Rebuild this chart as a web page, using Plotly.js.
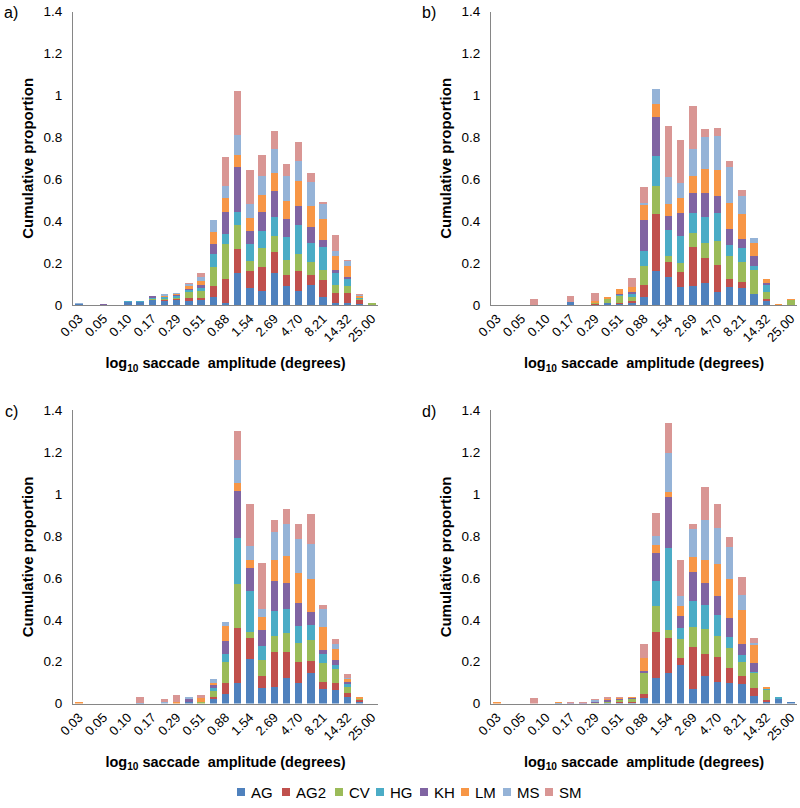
<!DOCTYPE html>
<html>
<head>
<meta charset="utf-8">
<script src="https://cdn.plot.ly/plotly-3.0.1.min.js"></script>
<style>html,body{margin:0;padding:0;background:#fff}#chart{width:800px;height:808px}</style>
</head>
<body>
<div id="chart"></div>
<script>
// Category bins (log-spaced saccade amplitude, degrees)
const categories = ["0.03","0.04","0.05","0.07","0.10","0.13","0.17","0.22","0.29","0.38","0.51","0.67","0.88","1.17","1.54","2.04","2.69","3.56","4.70","6.21","8.21","10.84","14.32","18.92","25.00"];
const tickLabels = ["0.03","0.05","0.10","0.17","0.29","0.51","0.88","1.54","2.69","4.70","8.21","14.32","25.00"];
const seriesNames = ["AG","AG2","CV","HG","KH","LM","MS","SM"];
const seriesColors = ["#4F81BD","#C0504D","#9BBB59","#4BACC6","#8064A2","#F79646","#95B3D7","#D99694"];
const panelLabels = ["a)","b)","c)","d)"];

// Panel a
const a_AG  = [0.003,0,0.002,0,0.015,0.014,0.025,0.020,0.025,0.020,0.025,0.040,0.011,0.151,0.080,0.067,0.151,0.092,0.067,0.095,0.040,0.008,0.008,0.005,0];
const a_AG2 = [0,0,0,0,0,0,0,0.003,0.003,0.015,0.010,0.050,0.111,0.118,0.080,0.113,0.100,0.051,0.097,0.048,0.080,0.048,0.048,0.020,0];
const a_CV  = [0,0,0,0,0,0,0.005,0.007,0.005,0.025,0.030,0.090,0.169,0.113,0.048,0.094,0.078,0.072,0.078,0.064,0.048,0.040,0.037,0.005,0.008];
const a_HG  = [0,0,0,0,0.003,0.004,0.005,0.007,0.008,0.010,0.015,0.062,0.046,0.060,0.084,0.080,0.092,0.111,0.140,0.091,0.107,0.059,0.032,0.005,0];
const a_KH  = [0.004,0,0.004,0,0,0,0.010,0.003,0.005,0.005,0.015,0.050,0.105,0.218,0.062,0.089,0.121,0.083,0.089,0.076,0.033,0.013,0.011,0,0];
const a_LM  = [0,0,0,0,0,0,0,0.005,0.005,0.015,0.020,0.057,0.067,0.056,0.060,0.080,0.086,0.089,0.122,0.097,0.102,0.068,0.048,0.008,0];
const a_MS  = [0.004,0,0,0,0,0,0,0.007,0.008,0.008,0.020,0.057,0.060,0.095,0.068,0.095,0.116,0.119,0.095,0.116,0.073,0.024,0.024,0.005,0];
const a_SM  = [0,0,0,0,0,0,0,0,0,0.005,0.020,0,0.138,0.210,0.162,0.099,0.086,0.056,0.091,0.041,0.011,0.072,0.008,0.003,0];

// Panel b
const b_AG  = [0,0,0,0,0,0,0.012,0,0.002,0.008,0.003,0.008,0.040,0.164,0.135,0.084,0.091,0.107,0.060,0.084,0.080,0.051,0.021,0,0];
const b_AG2 = [0,0,0,0,0,0,0,0,0.003,0,0.008,0.013,0.056,0.269,0.072,0.075,0.185,0.119,0.130,0.040,0.032,0.003,0.008,0,0];
const b_CV  = [0,0,0,0,0,0,0,0,0.006,0.020,0.030,0.019,0.088,0.135,0.029,0.043,0.067,0.072,0.115,0.111,0.091,0.113,0.032,0,0.025];
const b_HG  = [0,0,0,0,0,0,0.002,0,0,0,0.005,0.011,0.076,0.143,0.123,0.129,0.095,0.121,0.132,0.051,0.068,0.019,0.035,0,0];
const b_KH  = [0,0,0,0,0,0,0,0,0,0,0.008,0.013,0.146,0.185,0.064,0.107,0.095,0.118,0.084,0.075,0.045,0.048,0.008,0,0];
const b_LM  = [0,0,0,0,0,0,0,0,0.010,0.012,0.020,0.024,0.072,0.062,0.060,0.072,0.084,0.113,0.123,0.127,0.118,0.060,0.021,0.006,0.004];
const b_MS  = [0,0,0,0.002,0,0,0,0,0,0,0,0,0.011,0.073,0.130,0.072,0.127,0.151,0.162,0.169,0.084,0.024,0,0,0];
const b_SM  = [0,0,0,0.027,0,0,0.030,0,0.035,0,0,0.043,0.072,0,0.243,0.204,0.207,0.040,0.040,0.032,0.032,0,0,0,0];

// Panel c
const c_AG  = [0,0,0,0,0,0.005,0,0,0,0.010,0,0.020,0.047,0.097,0.212,0.073,0.081,0.121,0.097,0.145,0.069,0.066,0.030,0.010,0];
const c_AG2 = [0,0,0,0,0,0,0,0,0,0,0,0.010,0.050,0.266,0.100,0.060,0.165,0.124,0.103,0.060,0.035,0.030,0.020,0.005,0];
const c_CV  = [0,0,0,0,0,0,0,0,0,0,0.010,0.030,0.103,0.208,0.029,0.076,0.078,0.091,0.088,0.099,0.091,0.067,0.030,0.005,0];
const c_HG  = [0,0,0,0,0,0,0,0,0,0,0,0.015,0.035,0.218,0.197,0.067,0.119,0.116,0.083,0.072,0.040,0.021,0.015,0,0];
const c_KH  = [0,0,0,0,0,0,0,0,0,0.010,0,0.014,0.065,0.228,0.111,0.076,0.140,0.123,0.108,0.060,0.021,0.024,0.010,0,0];
const c_LM  = [0.008,0,0,0,0,0,0,0,0.010,0,0.015,0.011,0.070,0.035,0.037,0.059,0.103,0.130,0.146,0.158,0.111,0.053,0.013,0.010,0];
const c_MS  = [0,0,0,0,0,0,0,0.010,0,0.010,0,0.016,0.021,0.111,0.067,0.041,0.135,0.151,0.159,0.169,0.084,0.022,0.005,0,0];
const c_SM  = [0,0,0,0,0,0.025,0,0.010,0.030,0,0.015,0,0,0.137,0.199,0.218,0.056,0.072,0.072,0.143,0.018,0.024,0.019,0,0];

// Panel d
const d_AG  = [0,0,0,0,0,0.005,0,0,0,0.005,0.005,0.005,0.025,0.121,0.145,0.183,0.072,0.132,0.105,0.100,0.093,0.038,0.010,0.020,0.008];
const d_AG2 = [0,0,0,0,0,0,0,0,0,0,0.005,0.005,0.020,0.220,0.167,0.033,0.200,0.103,0.116,0.072,0.040,0.035,0.005,0,0];
const d_CV  = [0,0,0,0,0,0,0,0,0.005,0.005,0.005,0.010,0.100,0.127,0.040,0.091,0.095,0.121,0.102,0.095,0.064,0.075,0.050,0,0];
const d_HG  = [0,0,0,0,0,0,0,0,0,0,0,0,0,0.118,0.393,0.056,0.123,0.115,0.100,0.049,0.033,0.005,0.005,0.010,0];
const d_KH  = [0,0,0,0,0,0,0.005,0.005,0.005,0.005,0.005,0.005,0.013,0.135,0.240,0.056,0.140,0.103,0.091,0.091,0.056,0.043,0,0,0];
const d_LM  = [0.007,0,0,0,0,0.005,0,0,0,0.005,0.005,0.005,0.059,0.035,0.027,0.049,0.068,0.111,0.151,0.186,0.162,0.084,0.010,0,0];
const d_MS  = [0,0,0,0,0,0,0,0,0.005,0,0,0,0,0.045,0.186,0.046,0.134,0.191,0.175,0.156,0.068,0.008,0,0,0];
const d_SM  = [0,0,0,0.025,0,0,0.005,0.005,0.005,0.010,0.005,0,0.068,0.111,0.142,0.172,0.024,0.156,0.111,0.045,0.089,0.024,0,0,0];

const panels = [
  [a_AG,a_AG2,a_CV,a_HG,a_KH,a_LM,a_MS,a_SM],
  [b_AG,b_AG2,b_CV,b_HG,b_KH,b_LM,b_MS,b_SM],
  [c_AG,c_AG2,c_CV,c_HG,c_KH,c_LM,c_MS,c_SM],
  [d_AG,d_AG2,d_CV,d_HG,d_KH,d_LM,d_MS,d_SM]
];

const W = 800, H = 808;
const FONT = "Liberation Sans, Arial, sans-serif";
// pixel boxes for each panel plot area [left, right, top, bottom]
const boxes = [[73,378,11.7,305],[491,797,11.7,305],[73,378,410.3,703.6],[491,797,410.3,703.6]];

const traces = [];
panels.forEach((series, p) => {
  const sfx = p === 0 ? "" : String(p + 1);
  series.forEach((vals, s) => {
    traces.push({
      type: "bar",
      x: categories,
      y: vals,
      name: seriesNames[s],
      legendgroup: seriesNames[s],
      showlegend: false,
      marker: {color: seriesColors[s], line: {width: 0}},
      xaxis: "x" + sfx,
      yaxis: "y" + sfx,
      hoverinfo: "x+y+name"
    });
  });
});

const layout = {
  width: W, height: H,
  margin: {l: 0, r: 0, t: 0, b: 0},
  paper_bgcolor: "#fff", plot_bgcolor: "#fff",
  barmode: "stack",
  bargap: 0.385,
  font: {family: FONT, size: 13, color: "#000"},
  showlegend: false,
  annotations: [],
  shapes: []
};

boxes.forEach((b, p) => {
  const sfx = p === 0 ? "" : String(p + 1);
  layout["xaxis" + sfx] = {
    domain: [b[0] / W, b[1] / W],
    anchor: "y" + sfx,
    type: "category",
    categoryorder: "array",
    categoryarray: categories,
    range: [-0.5, categories.length - 0.5],
    tickmode: "array",
    tickvals: tickLabels,
    ticktext: tickLabels,
    tickangle: -45,
    showline: true, linecolor: "#868686", linewidth: 1,
    ticks: "", showgrid: false, zeroline: false,
    tickfont: {family: FONT, size: 13, color: "#000"},
    title: {text: "<b>log<sub>10</sub> saccade  amplitude (degrees)</b>", standoff: 14,
            font: {family: FONT, size: 14.5, color: "#000"}},
    automargin: false, fixedrange: true
  };
  layout["yaxis" + sfx] = {
    domain: [1 - b[3] / H, 1 - b[2] / H],
    anchor: "x" + sfx,
    range: [0, 1.4],
    tickmode: "linear", tick0: 0, dtick: 0.2,
    showline: true, linecolor: "#868686", linewidth: 1,
    ticks: "", showgrid: false, zeroline: false,
    ticklabelstandoff: 7,
    tickfont: {family: FONT, size: 13.5, color: "#000"},
    title: {text: "<b>Cumulative proportion</b>", standoff: 6,
            font: {family: FONT, size: 15, color: "#000"}},
    automargin: false, fixedrange: true
  };
  layout.annotations.push({
    text: panelLabels[p], showarrow: false,
    xref: "paper", yref: "paper", x: (b[0] - 62) / W, y: 1 - (b[2] + 1) / H,
    xanchor: "center", yanchor: "middle",
    font: {family: FONT, size: 16, color: "#000"}
  });
});

// Legend (Excel-style compact key under the panels)
const legendTextX = [249, 294, 347, 388, 432, 473, 515, 557];
const legendY = 792;
seriesNames.forEach((nm, s) => {
  const tx = legendTextX[s];
  layout.shapes.push({
    type: "rect", xref: "paper", yref: "paper",
    x0: (tx - 12) / W, x1: (tx - 4) / W,
    y0: 1 - (legendY + 4) / H, y1: 1 - (legendY - 4) / H,
    fillcolor: seriesColors[s], line: {width: 0}
  });
  layout.annotations.push({
    text: nm, showarrow: false,
    xref: "paper", yref: "paper", x: tx / W, y: 1 - legendY / H,
    xanchor: "left", yanchor: "middle",
    font: {family: FONT, size: 15, color: "#000"}
  });
});

Plotly.newPlot("chart", traces, layout, {displayModeBar: false, staticPlot: true});
</script>
</body>
</html>
